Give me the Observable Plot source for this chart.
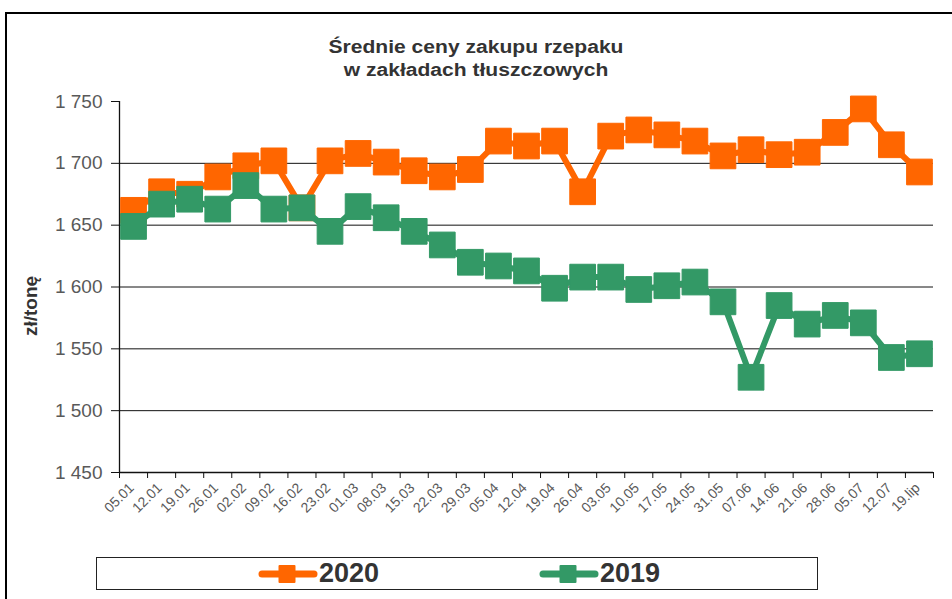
<!DOCTYPE html>
<html>
<head>
<meta charset="utf-8">
<script src="https://cdn.jsdelivr.net/npm/d3@7"></script>
<script src="https://cdn.jsdelivr.net/npm/@observablehq/plot@0.6"></script>
<style>
  html, body { margin: 0; padding: 0; background: #fff; }
  #wrap { position: relative; width: 952px; height: 599px; overflow: hidden; font-family: "Liberation Sans", Arial, sans-serif; background:#fff; }
  #frame { position: absolute; left: 5px; top: 12px; width: 960px; height: 600px; border-top: 2px solid #000; border-left: 2px solid #000; }
  #title { position: absolute; left: 0; top: 36px; width: 952px; text-align: center; font-weight: bold; font-size: 18px; line-height: 23px; color: #333; transform: scaleX(1.17); transform-origin: 476px 0; }
  #ylabel { position: absolute; left: 31px; top: 306px; transform: translate(-50%, -50%) rotate(-90deg); font-weight: bold; font-size: 19px; color: #333; white-space: nowrap; }
  #chart { position: absolute; left: 0; top: 80px; }
  #legend { position: absolute; left: 96px; top: 557px; width: 720px; height: 31px; border: 1.5px solid #222; }
  .litem { position: absolute; top: 0; height: 31px; display: flex; align-items: center; }
  .litem span { font-weight: bold; font-size: 27px; color: #333; margin-left: 1px; line-height: 31px; }
</style>
</head>
<body>
<div id="wrap">
  <div id="frame"></div>
  <div id="title">Średnie ceny zakupu rzepaku<br>w zakładach tłuszczowych</div>
  <div id="ylabel">zł/tonę</div>
  <div id="chart"></div>
  <div id="legend"></div>
</div>
<script>
const dates = ["05.01","12.01","19.01","26.01","02.02","09.02","16.02","23.02","01.03","08.03","15.03","22.03","29.03","05.04","12.04","19.04","26.04","03.05","10.05","17.05","24.05","31.05","07.06","14.06","21.06","28.06","05.07","12.07","19.lip"];
const v2020 = [1662,1677,1675,1689,1698,1702,1664,1702,1708,1701,1694,1689,1695,1718,1714,1718,1677,1722,1727,1723,1718,1706,1711,1707,1709,1725,1744,1715,1693];
const v2019 = [1649,1667,1671,1663,1682,1663,1664,1645,1665,1656,1645,1634,1620,1617,1613,1599,1608,1608,1598,1601,1604,1588,1527,1585,1570,1577,1571,1543,1546];
const seriesNames = ["2020","2019"];
const seriesColors = ["#FF6600","#339966"];
const yTicks = [1450,1500,1550,1600,1650,1700,1750];
const yGrid = [1500,1550,1600,1650,1700];

const seriesValues = [v2020, v2019];
const fmt = d => `${Math.floor(d/1000)} ${String(d % 1000).padStart(3,"0")}`;

const seriesMarks = seriesNames.flatMap((name, k) => {
  const rows = seriesValues[k].map((v, i) => ({pos: i + 0.5, value: v, year: name}));
  return [
    Plot.lineY(rows, {x: "pos", y: "value", stroke: seriesColors[k], strokeWidth: 6, strokeLinejoin: "round"}),
    Plot.dot(rows, {x: "pos", y: "value", symbol: "square", r: 14.5, fill: seriesColors[k], stroke: seriesColors[k], strokeWidth: 1, strokeLinejoin: "round"})
  ];
});

const chart = Plot.plot({
  width: 952,
  height: 450,
  marginLeft: 119,
  marginRight: 19,
  marginTop: 21,
  marginBottom: 58,
  style: {fontFamily: "'Liberation Sans', Arial, sans-serif", background: "transparent"},
  x: {domain: [0, dates.length], axis: null},
  y: {domain: [1450, 1750], axis: null},
  marks: [
    Plot.ruleY(yGrid, {stroke: "#111", strokeWidth: 1}),
    Plot.ruleY([1450], {stroke: "#111", strokeWidth: 1.3}),
    Plot.ruleX([0], {stroke: "#111", strokeWidth: 1.3}),
    Plot.axisY({ticks: yTicks, tickFormat: fmt, tickSize: 8, tickPadding: 9, fontSize: 19, fill: "#595959", stroke: "#111", label: null}),
    Plot.axisX({ticks: d3.range(dates.length + 1), tickFormat: () => "", tickSize: 6, stroke: "#111", label: null}),
    Plot.text(dates, {x: (d, i) => i + 0.5, y: () => 1450, text: d => d, rotate: -45, textAnchor: "end", dx: -2, dy: 13, fontSize: 14, fill: "#595959"}),
    ...seriesMarks
  ]
});
document.getElementById("chart").appendChild(chart);

// legend
const legend = document.getElementById("legend");
const legendLeft = [161, 442];
seriesNames.forEach((name, k) => {
  const item = document.createElement("div");
  item.className = "litem";
  item.style.left = legendLeft[k] + "px";
  const c = seriesColors[k];
  item.innerHTML = `<svg width="60" height="31"><line x1="4" x2="56" y1="16" y2="16" stroke="${c}" stroke-width="7" stroke-linecap="round"/><rect x="20.5" y="7" width="17" height="18" fill="${c}" rx="1"/></svg><span>${name}</span>`;
  legend.appendChild(item);
});
</script>
</body>
</html>
